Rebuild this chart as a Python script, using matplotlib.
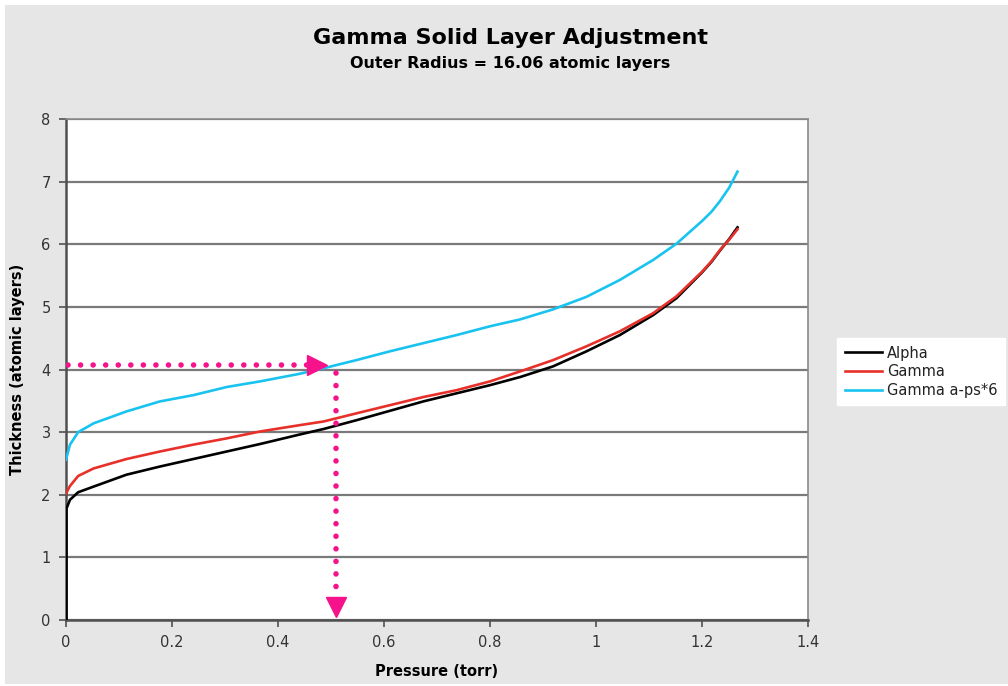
import matplotlib
matplotlib.use("Agg")
import matplotlib.pyplot as plt
from matplotlib.patches import Rectangle
from matplotlib.ticker import FuncFormatter

# values
pressure = [0, 0.0075, 0.023, 0.052, 0.114, 0.177, 0.24, 0.303, 0.366, 0.44,
            0.486, 0.548, 0.611, 0.674, 0.737, 0.8, 0.857, 0.919, 0.982,
            1.045, 1.108, 1.152, 1.2, 1.218, 1.234, 1.251, 1.267]
alpha = [1.76, 1.92, 2.04, 2.13, 2.32, 2.45, 2.57, 2.69, 2.81, 2.96,
         3.05, 3.19, 3.34, 3.49, 3.62, 3.75, 3.88, 4.05, 4.29,
         4.55, 4.87, 5.14, 5.55, 5.72, 5.90, 6.08, 6.27]
gamma = [2.02, 2.14, 2.30, 2.42, 2.57, 2.69, 2.80, 2.90, 3.01, 3.11,
         3.17, 3.30, 3.43, 3.56, 3.67, 3.81, 3.97, 4.15, 4.37,
         4.61, 4.90, 5.17, 5.56, 5.73, 5.91, 6.07, 6.24]
gamma_aps6 = [2.56, 2.80, 3.00, 3.14, 3.33, 3.49, 3.59, 3.72, 3.81, 3.93,
              4.02, 4.15, 4.29, 4.42, 4.55, 4.69, 4.80, 4.96, 5.16,
              5.43, 5.75, 6.01, 6.37, 6.52, 6.69, 6.90, 7.16]

# reading guide: thickness 4.07 -> pressure ~0.51
target_thickness = 4.07
read_pressure = 0.51

series_names = ["Alpha", "Gamma", "Gamma a-ps*6"]
series_colors = ["#000000", "#e8302a", "#19c3f0"]
pink = "#f5128a"

fig = plt.figure(figsize=(10.08, 6.86), dpi=100, facecolor="white")
# grey chart area (thin white strip on top / left like the screenshot)
bg = Rectangle((5 / 1008, 2 / 686), 1 - 5 / 1008, 1 - 7 / 686,
               transform=fig.transFigure, facecolor="#e6e6e6",
               edgecolor="none", zorder=-10)
fig.add_artist(bg)

ax = fig.add_axes([66 / 1008, 1 - 620 / 686, 742 / 1008, 501 / 686])
ax.set_zorder(1)
ax.set_facecolor("white")

ax.plot([0] + pressure[:1], [0] + alpha[:1], color=series_colors[0], lw=1.9, zorder=3)
ax.plot(pressure, alpha, color=series_colors[0], lw=1.9, label=series_names[0], zorder=3)
ax.plot(pressure, gamma, color=series_colors[1], lw=1.9, label=series_names[1], zorder=4)
ax.plot(pressure, gamma_aps6, color=series_colors[2], lw=1.9, label=series_names[2], zorder=5)

# dotted pink reading arrows
dots = dict(color=pink, lw=4.0, linestyle=(0, (0.01, 2.25)),
            dash_capstyle="round", zorder=6)
ax.plot([0.003, read_pressure - 0.05], [target_thickness] * 2, **dots)
ax.plot([read_pressure - 0.036], [target_thickness], marker=">", ms=15,
        color=pink, mec=pink, zorder=6)
ax.plot([read_pressure] * 2, [target_thickness - 0.12, 0.42], **dots)
ax.plot([read_pressure], [0.21], marker="v", ms=15, color=pink, mec=pink, zorder=6)

ax.set_xlim(0, 1.4)
ax.set_ylim(0, 8)
ax.set_xticks([0, 0.2, 0.4, 0.6, 0.8, 1.0, 1.2, 1.4])
ax.set_yticks(range(0, 9))
ax.xaxis.set_major_formatter(FuncFormatter(lambda v, p: "%g" % round(v, 2)))
ax.grid(axis="y", color="#7a7a7a", lw=1.6, zorder=1)
ax.set_axisbelow(True)

for side in ["top", "right"]:
    ax.spines[side].set_color("#8a8a8a")
    ax.spines[side].set_linewidth(1.2)
for side in ["left", "bottom"]:
    ax.spines[side].set_color("#505050")
    ax.spines[side].set_linewidth(1.8)

ax.tick_params(axis="both", direction="out", length=5, width=1.2,
               color="#505050", labelcolor="#333333", labelsize=10.5, pad=6)

ax.set_xlabel("Pressure (torr)", fontsize=10.5, fontweight="bold", labelpad=10)
ax.set_ylabel("Thickness (atomic layers)", fontsize=10.5, fontweight="bold", labelpad=12)

fig.text(0.506, 0.944, "Gamma Solid Layer Adjustment", ha="center", va="center",
         fontsize=16, fontweight="bold")
fig.text(0.506, 0.908, "Outer Radius = 16.06 atomic layers", ha="center", va="center",
         fontsize=11.5, fontweight="bold")

leg = fig.legend(loc="upper left", bbox_to_anchor=(830 / 1008, 1 - 331 / 686),
                 frameon=True, fancybox=False, framealpha=1, fontsize=10.5,
                 handlelength=2.6, handletextpad=0.3, borderpad=0.5,
                 labelspacing=0.25)
leg.set_zorder(5)
leg.get_frame().set_edgecolor("white")
leg.get_frame().set_facecolor("white")
for t in leg.get_texts():
    t.set_color("#222222")

fig.savefig("out.png", dpi=100, facecolor=fig.get_facecolor())
